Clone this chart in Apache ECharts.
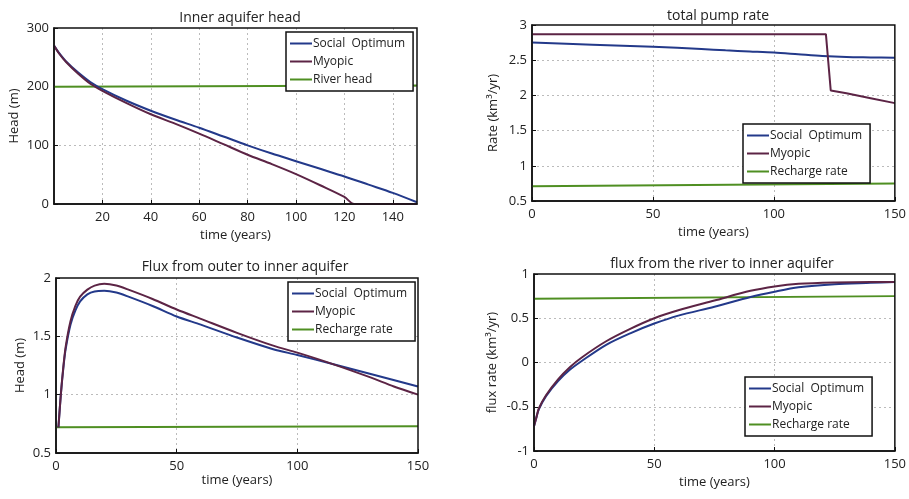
<!DOCTYPE html>
<html><head><meta charset="utf-8">
<script src="https://cdn.jsdelivr.net/npm/echarts@6/dist/echarts.min.js"></script>
<style>html,body{margin:0;padding:0;background:#fff}#c{width:909px;height:499px}</style>
</head><body><div id="c"></div>
<script>
// ---------- data ----------
const titles = ["Inner aquifer head", "total pump rate", "Flux from outer to inner aquifer", "flux from the river to inner aquifer"];
const yNames = ["Head (m)", "Rate (km\u00B3/yr)", "Head (m)", "flux rate (km\u00B3/yr)"];
const xName = "time (years)";
const seriesNames = ["Social  Optimum", "Myopic"];
const refNames = ["River head", "Recharge rate", "Recharge rate", "Recharge rate"];

// panel 1: inner aquifer head
const headSocial = [[0,270],[2,258],[5,243],[10,224],[15,208],[20,196],[30,176],[40,159],[50,144],[60,130],[70,115],[80,100],[90,86],[100,73],[110,60],[120,47],[130,33],[140,19],[150,3]];
const headMyopic = [[0,270],[2,257],[5,242],[10,222],[15,205],[20,193],[30,172],[40,153],[50,137],[60,120],[70,102],[80,84],[90,68],[100,51],[110,32],[120,12],[124,0],[130,0],[140,0],[150,0]];
const riverHead = [[0,200],[150,202]];

// panel 2: total pump rate
const pumpSocial = [[0,2.75],[25,2.72],[50,2.69],[70,2.66],[80,2.64],[90,2.625],[100,2.61],[110,2.585],[120,2.56],[130,2.545],[140,2.54],[150,2.535]];
const pumpMyopic = [[0,2.87],[121.5,2.87],[123.5,2.07],[130,2.03],[140,1.96],[150,1.89]];
const pumpRecharge = [[0,0.71],[150,0.75]];

// panel 3: flux from outer to inner aquifer
const outerSocial = [[1,0.72],[2,1.0],[3,1.22],[4,1.39],[6,1.6],[8,1.72],[10,1.8],[13,1.86],[16,1.885],[20,1.89],[25,1.875],[30,1.84],[40,1.76],[50,1.67],[60,1.6],[75,1.49],[90,1.39],[100,1.34],[115,1.26],[130,1.18],[150,1.07]];
const outerMyopic = [[1,0.72],[2,1.0],[3,1.23],[4,1.41],[6,1.63],[8,1.76],[10,1.84],[13,1.9],[16,1.935],[20,1.95],[25,1.935],[30,1.9],[40,1.82],[50,1.73],[60,1.65],[75,1.53],[90,1.42],[100,1.36],[115,1.26],[130,1.15],[140,1.07],[150,1.0]];
const outerRecharge = [[0,0.72],[150,0.73]];

// panel 4: flux from the river to inner aquifer
const riverSocial = [[0,-0.72],[1,-0.62],[2,-0.53],[5,-0.38],[10,-0.21],[15,-0.08],[20,0.02],[30,0.2],[40,0.33],[50,0.44],[60,0.53],[75,0.63],[90,0.74],[100,0.8],[110,0.85],[125,0.885],[140,0.9],[150,0.91]];
const riverMyopic = [[0,-0.72],[1,-0.62],[2,-0.52],[5,-0.37],[10,-0.19],[15,-0.05],[20,0.06],[30,0.24],[40,0.38],[50,0.5],[60,0.59],[75,0.7],[90,0.81],[100,0.86],[110,0.89],[125,0.905],[140,0.91],[150,0.91]];
const riverRecharge = [[0,0.72],[150,0.75]];

const yMin = [0, 0.5, 0.5, -1];
const yMax = [300, 3, 2, 1];
const yInterval = [100, 0.5, 0.5, 0.5];
const xInterval = [20, 50, 50, 50];

// ---------- layout ----------
const FONT = "Open Sans";
const C_SOC = "#23398a", C_MYO = "#5c2445", C_REF = "#4f8f22";
const grids = [
  {left:54, top:28, width:363, height:176},
  {left:532, top:25, width:365, height:176},
  {left:56, top:278, width:362, height:175},
  {left:534, top:274, width:368, height:177}
];
const titlePos = [[235,6],[713,4],[240,255],[717,252]];
const yGap = [33, 32, 29, 35];
const xGap = [25, 25, 20, 25];
const legendPos = [[286,32],[743,124],[288,282],[745,377]];
const panelData = [
  [headSocial, headMyopic, riverHead],
  [pumpSocial, pumpMyopic, pumpRecharge],
  [outerSocial, outerMyopic, outerRecharge],
  [riverSocial, riverMyopic, riverRecharge]
];

const option = {
  backgroundColor:'#fff',
  animation:false,
  textStyle:{fontFamily:FONT},
  title: titles.map((t,i)=>({text:t, left:titlePos[i][0], top:titlePos[i][1], textAlign:'center',
    textStyle:{fontFamily:FONT, fontSize:14, fontWeight:'normal', color:'#222'}})),
  grid: grids.map(g=>Object.assign({show:true, borderColor:'#111', borderWidth:1.5, backgroundColor:'transparent', containLabel:false, z:5}, g)),
  xAxis: grids.map((g,i)=>({type:'value', gridIndex:i, min:0, max:150, interval:xInterval[i],
    name:xName, nameLocation:'middle', nameGap:xGap[i], nameTextStyle:{fontFamily:FONT, fontSize:13, color:'#222'},
    axisLine:{show:true, onZero:false, lineStyle:{color:'#111', width:1.5}}, axisTick:{show:true, inside:true, length:4, lineStyle:{color:'#111'}},
    axisLabel:{fontFamily:FONT, fontSize:13, color:'#222', margin:7, showMinLabel: i!==0, showMaxLabel: i!==0},
    splitLine:{show:true, showMinLine:false, showMaxLine:false, lineStyle:{color:'#bbb', type:[2,3], width:1}}})),
  yAxis: grids.map((g,i)=>({type:'value', gridIndex:i, min:yMin[i], max:yMax[i], interval:yInterval[i],
    name:yNames[i], nameLocation:'middle', nameGap:yGap[i], nameRotate:90, nameTextStyle:{fontFamily:FONT, fontSize:13, color:'#222'},
    axisLine:{show:true, onZero:false, lineStyle:{color:'#111', width:1.5}}, axisTick:{show:true, inside:true, length:4, lineStyle:{color:'#111'}},
    axisLabel:{fontFamily:FONT, fontSize:13, color:'#222', margin:5},
    splitLine:{show:true, showMinLine:false, showMaxLine:false, lineStyle:{color:'#bbb', type:[2,3], width:1}}})),
  legend: legendPos.map((p,i)=>({left:p[0], top:p[1], orient:'vertical', data:[seriesNames[0], seriesNames[1], refNames[i]],
    icon:'rect', borderColor:'#111', borderWidth:1.5, backgroundColor:'#fff', padding:[4,8,4,4], itemGap:3, itemWidth:22, itemHeight:2,
    textStyle:{fontFamily:FONT, fontSize:12, color:'#222', lineHeight:15, padding:[0,0,0,-4]}, selectedMode:false, z:10})),
  series: []
};
panelData.forEach((d,i)=>{
  const names = [seriesNames[0], seriesNames[1], refNames[i]];
  const cols = [C_SOC, C_MYO, C_REF];
  [2,0,1].forEach(k=>{
    const s = {type:'line', name:names[k], xAxisIndex:i, yAxisIndex:i, data:d[k], symbol:'none', showSymbol:false,
      lineStyle:{color:cols[k], width:2}, itemStyle:{color:cols[k]}, z:3};
    if (k<2 && !(i===1 && k===1)) { s.smooth = 0.3; }
    option.series.push(s);
  });
});
const chart = echarts.init(document.getElementById('c'), null, {renderer:'canvas'});
chart.setOption(option);
</script></body></html>
